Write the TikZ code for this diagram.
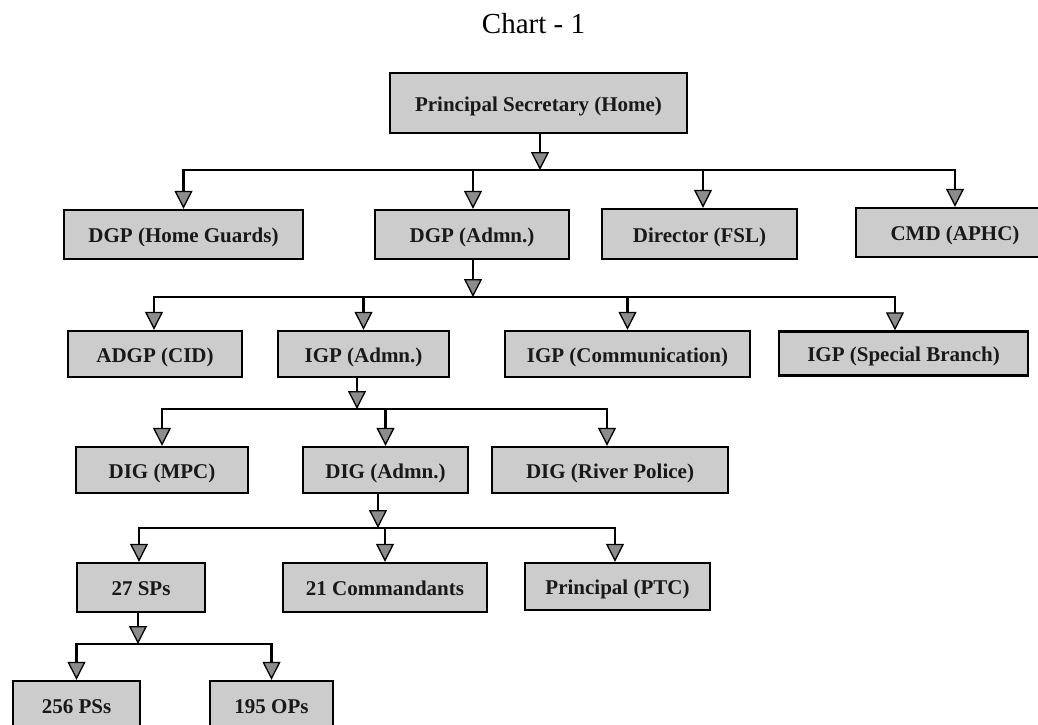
\documentclass[tikz,border=0pt]{standalone}
\usepackage{fontspec}
\setmainfont{Liberation Serif}
\usetikzlibrary{arrows.meta}
\tikzset{
  unit/.style={draw=black, line width=2.4pt, fill=black!20, inner sep=0pt,
    font=\fontsize{21}{24}\selectfont\bfseries, text=black!90,
    text height=16pt, text depth=0pt},
  bus/.style={draw=black, line width=2.2pt, line cap=rect},
  drop/.style={draw=black, line width=2.2pt,
    -{Triangle[width=18pt,length=18pt,fill=black!45,line width=1.3pt]}},
}
\begin{document}
\begin{tikzpicture}[x=1pt,y=-1pt]
\useasboundingbox[fill=white] (0,0) rectangle (1038,724);

% title
\node[font=\fontsize{29}{32}\selectfont] (title) at (533.5,24) {Chart - 1};

% level 0
\node[unit, minimum width=297pt, minimum height=60pt] (ps) at (538.5,103) {Principal Secretary (Home)};

% level 1
\node[unit, minimum width=239pt, minimum height=49pt] (dgph) at (183.5,234.5) {DGP (Home Guards)};
\node[unit, minimum width=194pt, minimum height=49pt] (dgpa) at (472,234.5) {DGP (Admn.)};
\node[unit, minimum width=195pt, minimum height=50pt] (dir)  at (699.5,234) {Director (FSL)};
\node[unit, minimum width=198pt, minimum height=49pt] (cmd)  at (955,232.5) {CMD (APHC)};

% level 2
\node[unit, minimum width=174pt, minimum height=46pt] (adgp)  at (155,354) {ADGP (CID)};
\node[unit, minimum width=171pt, minimum height=46pt] (igpa)  at (363.5,354) {IGP (Admn.)};
\node[unit, minimum width=245pt, minimum height=46pt] (igpc)  at (627.5,354) {IGP (Communication)};
\node[unit, minimum width=249pt, minimum height=44pt] (igpsb) at (903.5,353.5) {IGP (Special Branch)};

% level 3
\node[unit, minimum width=172pt, minimum height=46pt] (digm) at (162,470) {DIG (MPC)};
\node[unit, minimum width=165pt, minimum height=46pt] (diga) at (385.5,470) {DIG (Admn.)};
\node[unit, minimum width=236pt, minimum height=46pt] (digr) at (610,470) {DIG (River Police)};

% level 4
\node[unit, minimum width=128pt, minimum height=49pt] (sps)  at (141,587.5) {27 SPs};
\node[unit, minimum width=204pt, minimum height=49pt] (cmdt) at (385,587.5) {21 Commandants};
\node[unit, minimum width=185pt, minimum height=47pt] (ptc)  at (617.5,586.5) {Principal (PTC)};

% level 5
\node[unit, minimum width=127pt, minimum height=49pt] (pss) at (76.5,705.5) {256 PSs};
\node[unit, minimum width=123pt, minimum height=49pt] (ops) at (271.5,705.5) {195 OPs};

% bus levels
\coordinate (b1) at (0,170);
\coordinate (b2) at (0,297);
\coordinate (b3) at (0,409);
\coordinate (b4) at (0,528);
\coordinate (b5) at (0,644);

% Principal Secretary -> level 1
\draw[drop] ([xshift=1.5pt]ps.south) -- ([xshift=1.5pt]ps.south |- b1);
\draw[bus] (dgph.north |- b1) -- (cmd.north |- b1);
\draw[drop] (dgph.north |- b1) -- (dgph.north);
\draw[drop] ([xshift=1pt]dgpa.north |- b1) -- ([xshift=1pt]dgpa.north);
\draw[drop] ([xshift=3.5pt]dir.north |- b1) -- ([xshift=3.5pt]dir.north);
\draw[drop] (cmd.north |- b1) -- (cmd.north);

% DGP (Admn.) -> level 2
\draw[drop] ([xshift=1pt]dgpa.south) -- ([xshift=1pt]dgpa.south |- b2);
\draw[bus] ([xshift=-1pt]adgp.north |- b2) -- ([xshift=-8.5pt]igpsb.north |- b2);
\draw[drop] ([xshift=-1pt]adgp.north |- b2) -- ([xshift=-1pt]adgp.north);
\draw[drop] (igpa.north |- b2) -- (igpa.north);
\draw[drop] (igpc.north |- b2) -- (igpc.north);
\draw[drop] ([xshift=-8.5pt]igpsb.north |- b2) -- ([xshift=-8.5pt]igpsb.north);

% IGP (Admn.) -> level 3
\draw[drop] ([xshift=-6.5pt]igpa.south) -- ([xshift=-6.5pt]igpa.south |- b3);
\draw[bus] (digm.north |- b3) -- ([xshift=-3pt]digr.north |- b3);
\draw[drop] (digm.north |- b3) -- (digm.north);
\draw[drop] (diga.north |- b3) -- (diga.north);
\draw[drop] ([xshift=-3pt]digr.north |- b3) -- ([xshift=-3pt]digr.north);

% DIG (Admn.) -> level 4
\draw[drop] ([xshift=-7.5pt]diga.south) -- ([xshift=-7.5pt]diga.south |- b4);
\draw[bus] ([xshift=-2pt]sps.north |- b4) -- ([xshift=-2.5pt]ptc.north |- b4);
\draw[drop] ([xshift=-2pt]sps.north |- b4) -- ([xshift=-2pt]sps.north);
\draw[drop] (cmdt.north |- b4) -- (cmdt.north);
\draw[drop] ([xshift=-2.5pt]ptc.north |- b4) -- ([xshift=-2.5pt]ptc.north);

% 27 SPs -> level 5
\draw[drop] ([xshift=-3pt]sps.south) -- ([xshift=-3pt]sps.south |- b5);
\draw[bus] (pss.north |- b5) -- (ops.north |- b5);
\draw[drop] (pss.north |- b5) -- (pss.north);
\draw[drop] (ops.north |- b5) -- (ops.north);
\end{tikzpicture}
\end{document}
